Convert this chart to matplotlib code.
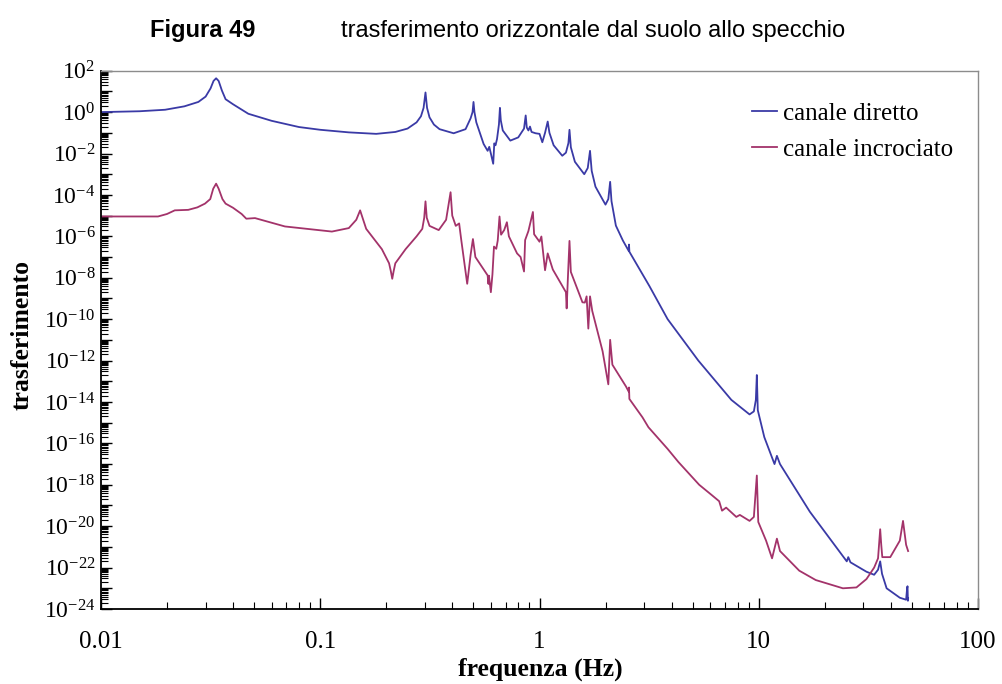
import math
import matplotlib
matplotlib.use("Agg")
import matplotlib.pyplot as plt
from matplotlib.ticker import LogLocator, FixedLocator, FuncFormatter, NullFormatter, FixedFormatter

# ---- data ----
freq_diretto = [0.0100, 0.0150, 0.0196, 0.0240, 0.0278, 0.0300, 0.0316, 0.0326, 0.0335, 0.0344,
                0.0356, 0.0370, 0.0400, 0.0470, 0.0600, 0.0800, 0.1000, 0.1350, 0.1800, 0.2200,
                0.2500, 0.2750, 0.2880, 0.2960, 0.3020, 0.3070, 0.3150, 0.3300, 0.3500, 0.4060,
                0.4600, 0.4850, 0.4950, 0.5000, 0.5050, 0.5150, 0.5560, 0.5800, 0.5900, 0.6000,
                0.6150, 0.6220, 0.6300, 0.6400, 0.6530, 0.6600, 0.6660, 0.6800, 0.7360, 0.8000,
                0.8500, 0.8650, 0.8750, 0.8900, 0.9050, 0.9200, 0.9600, 1.0000, 1.0300, 1.0600,
                1.0900, 1.1100, 1.1600, 1.2700, 1.3200, 1.3550, 1.3700, 1.3900, 1.4500, 1.6000,
                1.6600, 1.7000, 1.7300, 1.8000, 1.9400, 2.0000, 2.0600, 2.1000, 2.1300, 2.2300,
                2.4000, 2.5500, 2.5600, 2.5700, 3.1700, 3.8400, 5.3000, 7.5000, 9.0800, 9.5000,
                9.7000, 9.8000, 9.9000, 10.600, 11.800, 12.100, 12.500, 17.100, 25.200, 25.600,
                26.200, 31.000, 33.600, 35.000, 35.800, 36.500, 38.300, 44.000, 47.000, 47.500,
                47.700, 47.900, 48.000]
val_diretto = [1.0e0, 1.1e0, 1.3e0, 1.9e0, 3.1e0, 5.6e0, 1.4e1, 3.2e1, 4.3e1, 3.2e1,
               1.1e1, 4.2e0, 2.4e0, 8.3e-1, 3.8e-1, 1.9e-1, 1.4e-1, 1.05e-1, 8.9e-2, 1.1e-1,
               1.6e-1, 3.2e-1, 6.3e-1, 1.6e0, 8.9e0, 1.6e0, 5.6e-1, 2.5e-1, 1.5e-1, 9.5e-2,
               1.5e-1, 5.0e-1, 1.0e0, 3.1e0, 1.0e0, 3.2e-1, 2.9e-2, 1.35e-2, 2.1e-2, 1.0e-2,
               3.2e-3, 3.1e-2, 2.5e-2, 5.0e-2, 2.5e-1, 1.6e0, 4.0e-1, 1.3e-1, 4.2e-2, 6.0e-2,
               1.6e-1, 6.9e-1, 1.8e-1, 1.3e-1, 2.0e-1, 1.1e-1, 9.5e-2, 8.9e-2, 3.5e-2, 1.0e-1,
               3.5e-1, 1.0e-1, 2.5e-2, 7.8e-3, 1.1e-2, 3.2e-2, 1.4e-1, 2.0e-2, 4.0e-3, 1.0e-3,
               2.0e-3, 1.35e-2, 1.45e-3, 2.5e-4, 6.0e-5, 3.4e-5, 6.3e-5, 4.3e-4, 5.0e-5, 3.3e-6,
               6.3e-7, 2.0e-7, 4.0e-7, 1.8e-7, 4.0e-9, 1.0e-10, 1.0e-12, 1.26e-14, 2.5e-15, 3.5e-15,
               1.26e-14, 2.0e-13, 4.0e-15, 2.0e-16, 1.0e-17, 2.5e-17, 1.0e-17, 5.0e-20, 2.0e-22, 3.2e-22,
               1.8e-22, 6.3e-23, 4.5e-23, 7.9e-23, 2.0e-22, 5.0e-23, 1.0e-23, 3.5e-24, 2.8e-24, 1.0e-23,
               1.26e-23, 2.5e-24, 3.2e-24]

freq_incrociato = [0.0100, 0.0182, 0.0200, 0.0217, 0.0250, 0.0275, 0.0298, 0.0315, 0.0325, 0.0335,
                   0.0344, 0.0358, 0.0370, 0.0400, 0.0438, 0.0460, 0.0504, 0.0690, 0.1130, 0.1350,
                   0.1460, 0.1520, 0.1570, 0.1620, 0.1910, 0.2060, 0.2100, 0.2130, 0.2160, 0.2200,
                   0.2450, 0.2750, 0.2920, 0.2980, 0.3020, 0.3060, 0.3150, 0.3470, 0.3750, 0.3930,
                   0.4000, 0.4150, 0.4300, 0.4400, 0.4680, 0.4850, 0.4970, 0.5100, 0.5800, 0.5850,
                   0.5880, 0.6000, 0.6100, 0.6200, 0.6350, 0.6450, 0.6570, 0.6680, 0.6900, 0.7100,
                   0.7250, 0.7900, 0.8200, 0.8500, 0.8600, 0.8900, 0.9330, 0.9450, 1.0000, 1.0200,
                   1.0600, 1.0900, 1.1500, 1.3200, 1.3300, 1.3500, 1.3700, 1.3900, 1.5700, 1.6100,
                   1.6400, 1.6700, 1.7000, 1.7400, 1.9400, 2.0600, 2.1000, 2.1500, 2.4800, 2.5500,
                   2.5600, 2.5700, 2.9500, 3.1400, 3.8400, 4.3000, 5.3500, 6.1000, 6.6000, 6.8000,
                   7.1000, 7.9000, 8.2000, 9.0800, 9.5000, 9.8000, 9.9500, 10.800, 11.500, 12.100,
                   12.500, 15.300, 18.200, 21.800, 24.200, 27.900, 31.000, 33.600, 35.000, 35.800,
                   36.200, 36.600, 39.800, 44.000, 45.500, 47.000, 48.000]
val_incrociato = [9.1e-6, 9.1e-6, 1.2e-5, 1.8e-5, 1.9e-5, 2.5e-5, 3.8e-5, 6.3e-5, 2.0e-4, 3.5e-4,
                  2.0e-4, 6.3e-5, 3.8e-5, 2.4e-5, 1.2e-5, 7.1e-6, 7.6e-6, 3.0e-6, 1.7e-6, 2.5e-6,
                  6.3e-6, 1.8e-5, 6.3e-6, 2.3e-6, 2.4e-7, 5.0e-8, 2.0e-8, 8.9e-9, 2.0e-8, 5.0e-8,
                  2.4e-7, 1.0e-6, 2.3e-6, 7.9e-6, 4.9e-5, 7.9e-6, 3.2e-6, 2.0e-6, 6.3e-6, 1.35e-4,
                  1.0e-5, 3.2e-6, 4.2e-6, 6.3e-7, 5.1e-9, 1.26e-7, 7.4e-7, 1.0e-7, 1.3e-8, 5.0e-9,
                  1.26e-8, 2.0e-9, 1.45e-8, 3.2e-7, 2.5e-7, 6.3e-7, 9.1e-6, 1.2e-6, 2.0e-6, 4.8e-6,
                  1.0e-6, 1.5e-7, 1.0e-7, 2.0e-8, 6.6e-7, 1.8e-6, 1.5e-5, 1.26e-6, 5.5e-7, 9.8e-7,
                  2.3e-8, 1.5e-7, 2.5e-8, 2.0e-9, 3.3e-10, 1.6e-8, 6.0e-7, 1.9e-8, 6.5e-10, 6.3e-10,
                  1.26e-9, 3.5e-11, 1.26e-9, 2.5e-10, 2.8e-12, 7.1e-14, 1.0e-11, 6.3e-13, 5.6e-14, 3.2e-14,
                  5.0e-14, 1.4e-14, 1.8e-15, 6.0e-16, 5.4e-17, 1.26e-17, 1.0e-18, 3.2e-19, 1.6e-19, 5.6e-20,
                  7.9e-20, 2.8e-20, 3.5e-20, 1.8e-20, 2.8e-20, 2.8e-18, 1.6e-20, 2.0e-21, 2.8e-22, 2.5e-21,
                  6.3e-22, 7.1e-23, 2.5e-23, 1.4e-23, 1.0e-23, 1.1e-23, 2.8e-23, 1.0e-22, 2.8e-22, 7.1e-21,
                  1.26e-21, 3.2e-22, 3.2e-22, 2.0e-21, 1.8e-20, 1.26e-21, 6.3e-22]

x_tick_values = [0.01, 0.1, 1, 10, 100]
x_tick_labels = ["0.01", "0.1", "1", "10", "100"]
y_exponents = list(range(-24, 3))

series_labels = ["canale diretto", "canale incrociato"]
title_left = "Figura 49"
title_right = "trasferimento orizzontale dal suolo allo specchio"
xlabel = "frequenza (Hz)"
ylabel = "trasferimento"

# ---- style ----
plt.rcParams["font.family"] = ["Liberation Serif", "DejaVu Serif"]
plt.rcParams["mathtext.fontset"] = "custom"
plt.rcParams["mathtext.rm"] = "Liberation Serif"
plt.rcParams["mathtext.it"] = "Liberation Serif:italic"
plt.rcParams["mathtext.bf"] = "Liberation Serif:bold"

W, H = 1002, 684
fig = plt.figure(figsize=(W / 100, H / 100), dpi=100)
left, right, top, bottom = 101, 978, 70.7, 609
ax = fig.add_axes([left / W, 1 - bottom / H, (right - left) / W, (bottom - top) / H])

c_blue = "#3a3aa6"
c_red = "#a3336a"
ax.plot(freq_diretto, val_diretto, color=c_blue, lw=1.3, label=series_labels[0])
ax.plot(freq_incrociato, val_incrociato, color=c_red, lw=1.3, label=series_labels[1])

ax.set_xscale("log")
ax.set_yscale("log")
ax.set_xlim(0.01, 100)
ax.set_ylim(1e-24, 1e2)

ax.xaxis.set_major_locator(FixedLocator(x_tick_values))
ax.xaxis.set_major_formatter(FixedFormatter(x_tick_labels))
ax.xaxis.set_minor_locator(LogLocator(base=10, subs=range(2, 10), numticks=100))
ax.xaxis.set_minor_formatter(NullFormatter())

ax.yaxis.set_major_locator(FixedLocator([10.0 ** e for e in y_exponents]))
def yfmt(v, pos):
    e = int(round(math.log10(v)))
    if e % 2 == 0:
        return r"$\mathregular{10^{%d}}$" % e
    return ""
ax.yaxis.set_major_formatter(FuncFormatter(yfmt))
ax.yaxis.set_minor_locator(LogLocator(base=10, subs=range(2, 10), numticks=100))
ax.yaxis.set_minor_formatter(NullFormatter())

ax.tick_params(axis="both", which="both", direction="in", top=False, right=False, color="black")
ax.tick_params(axis="both", which="major", length=8, width=1.0)
ax.tick_params(axis="both", which="minor", length=5, width=0.8)
ax.tick_params(axis="x", which="major", pad=16, labelsize=18)
ax.tick_params(axis="y", which="major", pad=4, labelsize=17)

for s in ("top", "right"):
    ax.spines[s].set_color("#8c8c8c")
    ax.spines[s].set_linewidth(1.0)
for s in ("left", "bottom"):
    ax.spines[s].set_color("black")
    ax.spines[s].set_linewidth(1.3)

leg = ax.legend(loc="upper left", bbox_to_anchor=((752 - left) / (right - left), (bottom - 102) / (bottom - top)),
                frameon=False, fontsize=18, handlelength=1.0, handletextpad=0.25, labelspacing=0.55,
                borderaxespad=0, borderpad=0)

fig.text(0.539, 1 - 669 / H, xlabel, ha="center", va="center", fontsize=18.5, fontweight="bold")
fig.text(22 / W, 1 - 335 / H, ylabel, ha="center", va="center", rotation=90, fontsize=18.5, fontweight="bold")

narrow = ["Liberation Sans Narrow", "Liberation Sans", "DejaVu Sans"]
fig.text(150 / W, 1 - 31 / H, title_left, ha="left", va="center", fontsize=17, fontweight="bold", family=narrow)
fig.text(341 / W, 1 - 31 / H, title_right, ha="left", va="center", fontsize=17, family=narrow)

fig.savefig("out.png", dpi=100)
